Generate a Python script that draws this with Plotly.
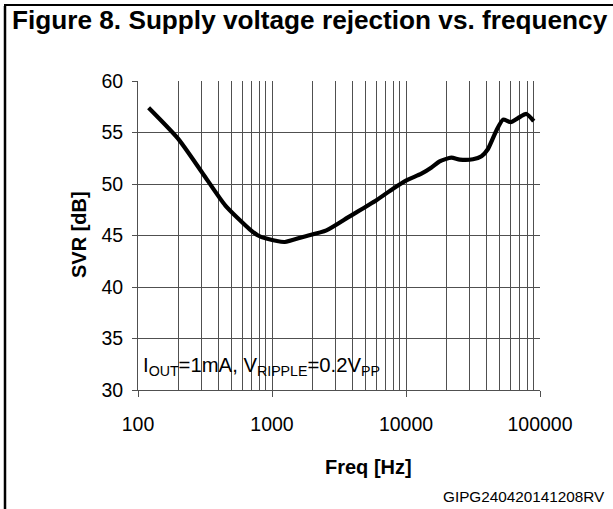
import plotly.graph_objects as go

freq_hz = [120, 199, 305, 449, 682, 787, 908, 1245, 1702, 2546, 3800, 6010, 8000, 10070,
           13030, 15500, 17830, 21800, 25200, 31600, 36600, 40900, 47300, 53000, 60400,
           68500, 79200, 89800]
svr_db = [57.4, 54.4, 51.0, 47.9, 45.6, 45.0, 44.7, 44.37, 44.86, 45.5, 46.86, 48.42, 49.55,
          50.36, 51.0, 51.6, 52.2, 52.56, 52.37, 52.4, 52.7, 53.4, 55.2, 56.25, 56.0, 56.4,
          56.8, 56.1]
x_tick_vals = [100, 1000, 10000, 100000]
x_tick_text = ["100", "1000", "10000", "100000"]
y_tick_vals = [30, 35, 40, 45, 50, 55, 60]

W, H = 613, 509
L, R, T, B = 138, 540, 81, 390

def px(x):
    return (x - L) / (R - L)

def py(y):
    return (B - y) / (B - T)

fig = go.Figure()
fig.add_trace(go.Scatter(x=freq_hz, y=svr_db, mode="lines",
                         line=dict(color="black", width=4.2, shape="spline", smoothing=0.6),
                         hoverinfo="skip", showlegend=False))

tickfont = dict(family="Liberation Sans, Arial, sans-serif", size=19.5, color="black")
fig.update_xaxes(type="log", range=[2, 5], tickvals=x_tick_vals, ticktext=x_tick_text,
                 showgrid=True, gridcolor="#505050", gridwidth=1,
                 minor=dict(dtick="D1", showgrid=True, gridcolor="#505050", gridwidth=1),
                 showline=True, linecolor="#505050", linewidth=1,
                 ticks="outside", ticklen=6, tickcolor="#505050",
                 tickfont=tickfont, ticklabelstandoff=11, zeroline=False, mirror=False)
fig.update_yaxes(range=[30, 60], tickvals=y_tick_vals,
                 showgrid=True, gridcolor="#505050", gridwidth=1,
                 showline=True, linecolor="#505050", linewidth=1,
                 ticks="outside", ticklen=5, tickcolor="#505050",
                 tickfont=tickfont, ticklabelstandoff=5, zeroline=False)

fig.add_annotation(text="<b>Figure 8. Supply voltage rejection vs. frequency</b>",
                   xref="paper", yref="paper", x=px(10), y=py(20), xanchor="left", yanchor="middle",
                   showarrow=False, font=dict(family="Liberation Sans, Arial", size=26.2, color="black"))
fig.add_annotation(text="<b>Freq [Hz]</b>", xref="paper", yref="paper", x=px(368), y=py(467),
                   xanchor="center", yanchor="middle", showarrow=False,
                   font=dict(family="Liberation Sans, Arial", size=20, color="black"))
fig.add_annotation(text="<b>SVR [dB]</b>", xref="paper", yref="paper", x=px(79), y=py(235),
                   xanchor="center", yanchor="middle", textangle=-90, showarrow=False,
                   font=dict(family="Liberation Sans, Arial", size=20, color="black"))
fig.add_annotation(text="I<sub>OUT</sub>=1mA, V<sub>RIPPLE</sub>=0.2V<sub>PP</sub>",
                   xref="paper", yref="paper", x=px(141), y=py(366), xanchor="left", yanchor="middle",
                   showarrow=False, font=dict(family="Liberation Sans, Arial", size=20.3, color="black"))
fig.add_annotation(text="GIPG240420141208RV", xref="paper", yref="paper", x=px(607), y=py(496),
                   xanchor="right", yanchor="middle", showarrow=False,
                   font=dict(family="Liberation Sans, Arial", size=15.3, color="black"))

# outer frame lines
fig.add_shape(type="line", xref="paper", yref="paper", x0=px(5), x1=px(5), y0=py(6), y1=py(509),
              line=dict(color="black", width=2.5))
fig.add_shape(type="line", xref="paper", yref="paper", x0=px(4), x1=px(613), y0=py(5), y1=py(5),
              line=dict(color="black", width=2))

fig.update_layout(width=W, height=H, margin=dict(l=L, r=W - R, t=T, b=H - B, pad=0),
                  paper_bgcolor="white", plot_bgcolor="white", showlegend=False)
fig.write_html("out.html", config={"displayModeBar": False},
               post_script="document.body.style.margin='0';document.body.style.overflow='hidden';")
